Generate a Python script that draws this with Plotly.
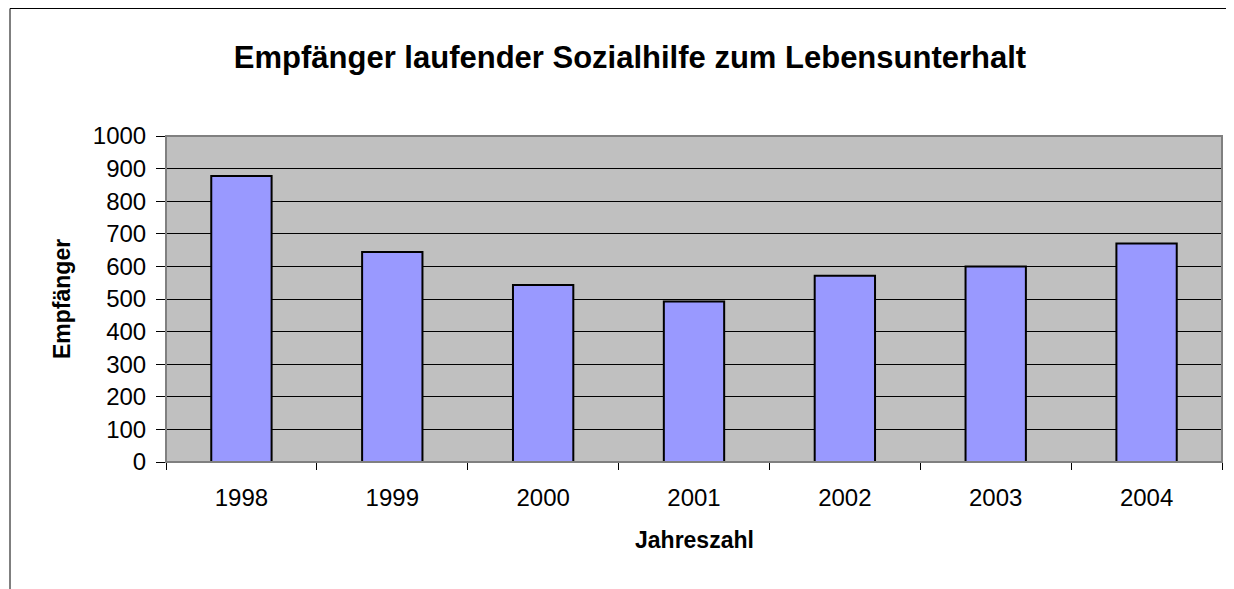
import plotly.graph_objects as go

years = ["1998", "1999", "2000", "2001", "2002", "2003", "2004"]
recipients = [877, 644, 543, 492, 571, 600, 670]
y_ticks = [0, 100, 200, 300, 400, 500, 600, 700, 800, 900, 1000]

# The page body has an 8px margin, so the figure is offset by 8px.
OFF = 8
W, H = 1234 - OFF, 589 - OFF
L, T = 166 - OFF, 136 - OFF
R = W - (1222 - OFF)
B = H - (462 - OFF)
pw = W - L - R
ph = H - T - B

fig = go.Figure()
fig.add_trace(go.Bar(
    x=years, y=recipients,
    marker=dict(color="#9999FF", line=dict(color="black", width=2)),
    width=0.4,
))

font = "Liberation Sans, Arial, sans-serif"
fig.update_layout(
    width=W, height=H,
    margin=dict(l=L, r=R, t=T, b=B),
    paper_bgcolor="white",
    plot_bgcolor="#C0C0C0",
    showlegend=False,
    font=dict(family=font, color="black", size=24),
    title=dict(text="<b>Empfänger laufender Sozialhilfe zum Lebensunterhalt</b>",
               x=(630 - OFF) / W, xanchor="center", y=1 - (57 - OFF) / H, yanchor="middle",
               font=dict(size=31, family=font)),
)
fig.update_xaxes(
    type="category",
    tickson="boundaries",
    ticks="outside", ticklen=7, tickcolor="black", tickwidth=1,
    showline=True, linecolor="black", linewidth=1,
    showgrid=False,
    ticklabelstandoff=14,
    tickfont=dict(size=24),
)
fig.update_yaxes(
    range=[0, 1000], tickvals=y_ticks,
    ticks="outside", ticklen=9, tickcolor="black", tickwidth=1,
    showline=True, linecolor="black", linewidth=1,
    showgrid=True, gridcolor="black", gridwidth=1,
    zeroline=False,
    tickfont=dict(size=24),
    ticklabelstandoff=5,
)
# axis titles
fig.add_annotation(text="<b>Jahreszahl</b>", xref="paper", yref="paper",
                   x=0.5, y=-(540 - 462) / ph, xanchor="center", yanchor="middle",
                   showarrow=False, font=dict(size=23))
fig.add_annotation(text="<b>Empfänger</b>", xref="paper", yref="paper",
                   x=(62 - 166) / pw, y=0.5, xanchor="center", yanchor="middle",
                   textangle=-90, showarrow=False, font=dict(size=23))
# plot-area frame (gray border)
fig.add_shape(type="rect", xref="paper", yref="paper", x0=0, x1=1, y0=0, y1=1,
              line=dict(color="#808080", width=2), layer="above")
# outer chart border (extends past the right and bottom edges)
fig.add_shape(type="rect", xref="paper", yref="paper",
              x0=(10 - OFF - L) / pw, x1=(W + 10 - L) / pw,
              y0=-(B + 10) / ph, y1=1 + (T - 0.5) / ph,
              line=dict(color="black", width=1))
fig.write_html("out.html")
